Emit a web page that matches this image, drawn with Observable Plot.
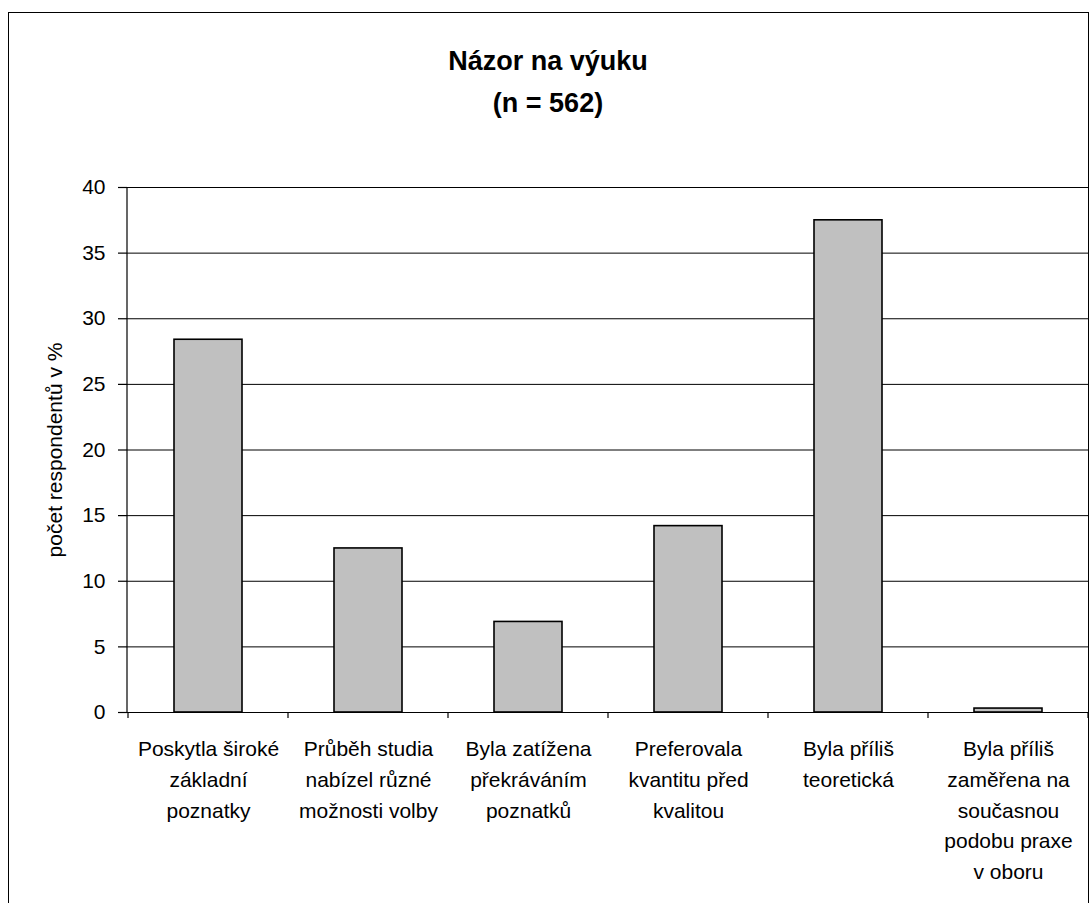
<!DOCTYPE html>
<html>
<head>
<meta charset="utf-8">
<script src="https://cdn.jsdelivr.net/npm/d3@7"></script>
<script src="https://cdn.jsdelivr.net/npm/@observablehq/plot@0.6"></script>
<style>
  body { margin: 0; background: #fff; }
  #wrap { position: relative; width: 1090px; height: 903px; overflow: hidden; font-family: "Liberation Sans", Arial, sans-serif; }
  #frame { position: absolute; left: 8px; top: 12px; width: 1079px; height: 1000px; border-left: 1.5px solid #000; border-top: 1.5px solid #000; border-right: 1.5px solid #000; }
  .title { position: absolute; left: 8px; width: 1080px; text-align: center; font-weight: bold; font-size: 27px; line-height: 41px; color: #000; }
  #chart { position: absolute; left: 0; top: 0; }
</style>
</head>
<body>
<div id="wrap">
  <div id="frame"></div>
  <div class="title" style="top:41px">Názor na výuku</div>
  <div class="title" style="top:83px">(n = 562)</div>
  <div id="chart"></div>
</div>
<script>
const categories = [
  "Poskytla široké základní poznatky",
  "Průběh studia nabízel různé možnosti volby",
  "Byla zatížena překráváním poznatků",
  "Preferovala kvantitu před kvalitou",
  "Byla příliš teoretická",
  "Byla příliš zaměřena na současnou podobu praxe v oboru"
];
const tickLabels = [
  "Poskytla široké\nzákladní\npoznatky",
  "Průběh studia\nnabízel různé\nmožnosti volby",
  "Byla zatížena\npřekráváním\npoznatků",
  "Preferovala\nkvantitu před\nkvalitou",
  "Byla příliš\nteoretická",
  "Byla příliš\nzaměřena na\nsoučasnou\npodobu praxe\nv oboru"
];
const values = [28.4, 12.5, 6.9, 14.2, 37.5, 0.3];
const yTicks = [0, 5, 10, 15, 20, 25, 30, 35, 40];
const yLabel = "počet respondentů v %";

const data = categories.map((c, i) => ({category: c, value: values[i], label: tickLabels[i]}));
const PAD = 0.575;

function boundaryTicks(index, scales, values, dimensions) {
  const x = scales.x, y = scales.y;
  const step = x.step();
  const bw = x.bandwidth();
  const y0 = y(0);
  const g = d3.create("svg:g").attr("stroke", "#000").attr("stroke-width", 1.2);
  const edges = categories.map(c => x(c) - (step - bw) / 2);
  edges.push(x(categories[categories.length - 1]) + bw + (step - bw) / 2);
  for (const e of edges) {
    g.append("line").attr("x1", e).attr("x2", e).attr("y1", y0).attr("y2", y0 + 6);
  }
  const xl = x.range()[0];
  g.append("line").attr("x1", xl).attr("x2", xl).attr("y1", y(40)).attr("y2", y0);
  return g.node();
}

const chart = Plot.plot({
  width: 1090,
  height: 903,
  marginLeft: 127,
  marginRight: 1,
  marginTop: 187,
  marginBottom: 191,
  style: { fontFamily: '"Liberation Sans", Arial, sans-serif', fontSize: "21px", color: "#000", background: "transparent", overflow: "visible" },
  x: { domain: categories, paddingInner: PAD, paddingOuter: PAD / 2, axis: null },
  y: { domain: [0, 40], axis: null },
  marks: [
    Plot.gridY(yTicks, { stroke: "#000", strokeOpacity: 1, strokeWidth: 1 }),
    Plot.barY(data, { x: "category", y: "value", fill: "#c0c0c0", stroke: "#000", strokeWidth: 1.6 }),
    Plot.ruleY([0], { stroke: "#000", strokeWidth: 1.2 }),
    Plot.axisY(yTicks, { tickSize: 9, tickPadding: 13, fontSize: 21, stroke: "#000", strokeWidth: 1.2, label: null }),
    boundaryTicks,
    Plot.text(data, { x: "category", text: "label", frameAnchor: "bottom", lineAnchor: "top", dy: 22, lineHeight: 1.46, fontSize: 21, fill: "#000" }),
    Plot.text([yLabel], { text: d => d, frameAnchor: "left", rotate: -90, dx: -72, fontSize: 21, textAnchor: "middle", lineAnchor: "middle", fill: "#000" })
  ]
});
document.getElementById("chart").appendChild(chart);
</script>
</body>
</html>
